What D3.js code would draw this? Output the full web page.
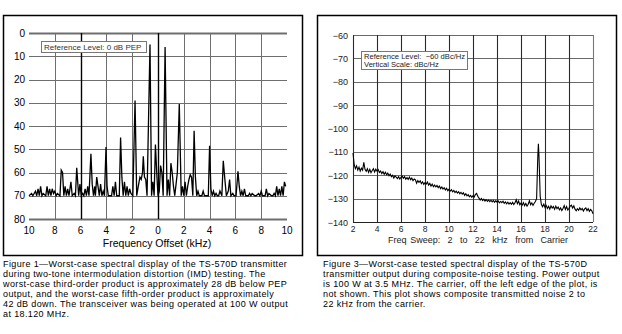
<!DOCTYPE html>
<html><head><meta charset="utf-8">
<script src="https://cdn.jsdelivr.net/npm/d3@7"></script>
<style>
html,body{margin:0;padding:0;background:#fff;}
svg{display:block;font-family:"Liberation Sans",Arial,sans-serif;}
</style></head>
<body>
<svg id="c" width="622" height="334"></svg>
<script>
// ---------- Figure 1 data: two-tone IMD spectrum (kHz offset, dB rel. PEP) ----------
const imdFreq = [-10,-9.8,-9.7,-9.5,-9.4,-9.3,-9.2,-9.1,-9.0,-8.9,-8.7,-8.6,-8.5,-8.4,-8.3,-8.2,-8.1,-8.0,-7.9,-7.8,-7.6,-7.5,-7.4,-7.3,-7.2,-7.1,-7.0,-6.9,-6.75,-6.65,-6.5,-6.4,-6.3,-6.2,-6.15,-6.05,-5.95,-5.85,-5.75,-5.65,-5.55,-5.45,-5.35,-5.2,-5.1,-5.0,-4.9,-4.85,-4.75,-4.65,-4.55,-4.45,-4.35,-4.25,-4.15,-4.03,-3.95,-3.85,-3.6,-3.5,-3.4,-3.3,-3.2,-3.0,-2.9,-2.8,-2.7,-2.6,-2.5,-2.4,-2.3,-2.2,-2.1,-1.95,-1.78,-1.65,-1.5,-1.4,-1.3,-1.2,-1.14,-1.05,-0.95,-0.85,-0.62,-0.5,-0.4,-0.3,-0.2,-0.1,0.0,0.1,0.2,0.3,0.4,0.55,0.7,0.8,0.9,1.0,1.1,1.2,1.3,1.4,1.5,1.65,1.8,1.9,2.0,2.1,2.2,2.3,2.4,2.5,2.6,2.7,2.8,2.9,3.0,3.1,3.2,3.4,3.5,3.6,3.9,4.0,4.1,4.2,4.3,4.4,4.5,4.6,4.7,4.8,4.95,5.06,5.2,5.3,5.45,5.55,5.65,5.8,5.9,6.05,6.2,6.3,6.4,6.5,6.6,6.7,6.8,7.0,7.1,7.2,7.3,7.5,7.6,7.8,7.9,8.0,8.1,8.3,8.4,8.5,8.6,8.8,8.9,9.0,9.1,9.2,9.3,9.4,9.5,9.6,9.7,9.8,9.9,10.0];
const imdLevel = [-70,-69,-70,-68,-70,-67,-70,-66,-70,-69,-70,-66,-70,-67,-70,-67,-69,-68,-70,-69,-70,-59,-60,-70,-66,-70,-67,-70,-64,-70,-69,-70,-58,-66,-70,-65,-70,-69,-70,-67,-70,-66,-70,-52,-65,-70,-66,-70,-62,-66,-70,-65,-70,-68,-70,-49,-66,-70,-70,-66,-70,-64,-70,-70,-45,-62,-70,-64,-70,-66,-70,-67,-69,-70,-29,-70,-65,-62,-63,-60,-53,-62,-63,-70,-5,-70,-64,-70,-48,-60,-70,-68,-57,-60,-70,-6,-70,-63,-70,-56,-60,-66,-70,-65,-60,-30.5,-70,-66,-70,-64,-70,-66,-63,-61,-62,-70,-42,-62,-70,-68,-70,-70,-68,-70,-70,-48.5,-67,-70,-68,-70,-69,-70,-70,-68,-70,-55,-64,-70,-68,-63,-70,-69,-70,-70,-59.5,-66,-70,-68,-70,-67,-70,-70,-69,-70,-69,-70,-70,-69,-70,-68,-70,-70,-67,-70,-69,-70,-70,-69,-70,-66,-70,-67,-70,-66,-70,-64,-66];
const imdXTicks = [-10,-8,-6,-4,-2,0,2,4,6,8,10];
const imdYTicks = [0,-10,-20,-30,-40,-50,-60,-70,-80];
const imdRefText = "Reference Level: 0 dB PEP";
const imdXTitle = "Frequency Offset (kHz)";
const fig1Caption = [
 "Figure 1\u2014Worst-case spectral display of the TS-570D transmitter",
 "during two-tone intermodulation distortion (IMD) testing. The",
 "worst-case third-order product is approximately 28 dB below PEP",
 "output, and the worst-case fifth-order product is approximately",
 "42 dB down. The transceiver was being operated at 100 W output",
 "at 18.120 MHz."];

// ---------- Figure 3 data: composite noise (kHz from carrier, dBc/Hz) ----------
const noiseFreq = [2.0,2.1,2.2,2.3,2.4,2.5,2.6,2.7,2.8,2.9,3.0,
 3.1,3.2,3.3,3.4,3.5,3.6,3.7,3.8,3.9,4.0,
 4.1,4.2,4.3,4.4,4.5,4.6,4.7,4.8,4.9,5.0,
 5.1,5.2,5.3,5.4,5.5,5.6,5.7,5.8,5.9,6.0,
 6.1,6.2,6.3,6.4,6.5,6.6,6.7,6.8,6.9,7.0,
 7.1,7.2,7.3,7.4,7.5,7.6,7.7,7.8,7.9,8.0,
 8.1,8.2,8.3,8.4,8.5,8.6,8.7,8.8,8.9,9.0,
 9.1,9.2,9.3,9.4,9.5,9.6,9.7,9.8,9.9,10.0,
 10.1,10.2,10.3,10.4,10.5,10.6,10.7,10.8,10.9,11.0,
 11.1,11.2,11.3,11.4,11.5,11.6,11.7,11.8,11.9,12.0,
 12.1,12.2,12.3,12.4,12.5,12.6,12.7,12.8,12.9,13.0,
 13.1,13.2,13.3,13.4,13.5,13.6,13.7,13.8,13.9,14.0,
 14.1,14.2,14.3,14.4,14.5,14.6,14.7,14.8,14.9,15.0,
 15.1,15.2,15.3,15.4,15.5,15.6,15.7,15.8,15.9,16.0,
 16.1,16.2,16.3,16.4,16.5,16.6,16.7,16.8,16.9,17.0,
 17.1,17.2,17.3,17.4,17.45,17.5,17.6,17.7,17.8,17.9,18.0,
 18.1,18.2,18.3,18.4,18.5,18.6,18.7,18.8,18.9,19.0,
 19.1,19.2,19.3,19.4,19.5,19.6,19.7,19.8,19.9,20.0,
 20.1,20.2,20.3,20.4,20.5,20.6,20.7,20.8,20.9,21.0,
 21.1,21.2,21.3,21.4,21.5,21.6,21.7,21.8,21.9,22.0];
const noiseLevel = [-110.5,-115.5,-117.2,-116.0,-117.8,-116.5,-118.2,-117.0,-117.8,-114.5,-117.5,
 -118.3,-117.2,-118.8,-117.5,-118.9,-118.0,-117.2,-118.6,-117.4,-118.2,
 -117.6,-118.8,-118.2,-119.3,-118.5,-119.6,-118.7,-119.8,-119.1,-120.2,
 -119.5,-120.6,-120.0,-121.2,-120.3,-120.8,-121.4,-120.6,-121.6,-120.9,
 -120.4,-121.3,-120.6,-121.7,-121.0,-121.8,-120.8,-121.9,-121.2,-122.3,
 -121.6,-122.0,-123.4,-122.3,-123.0,-122.4,-123.6,-122.8,-123.9,-123.2,
 -123.8,-122.9,-124.2,-123.5,-124.6,-123.8,-124.9,-124.2,-125.0,-124.4,
 -125.3,-124.6,-125.7,-125.0,-125.9,-125.3,-126.3,-125.6,-126.6,-126.0,
 -126.8,-126.2,-127.1,-126.5,-127.4,-126.8,-127.6,-127.0,-127.9,-127.3,
 -128.1,-127.5,-128.6,-127.9,-128.8,-128.3,-129.2,-128.6,-129.4,-128.7,
 -129.3,-128.2,-127.8,-129.0,-129.8,-130.6,-129.9,-130.8,-130.2,-131.0,
 -130.4,-131.2,-130.6,-131.3,-130.7,-131.4,-130.8,-131.6,-130.9,-131.5,
 -131.0,-131.8,-131.2,-131.7,-131.1,-132.0,-131.4,-132.2,-131.5,-132.3,
 -131.7,-132.4,-131.6,-132.5,-131.8,-130.5,-132.2,-131.0,-132.6,-131.9,
 -132.8,-131.7,-133.0,-132.1,-133.2,-132.4,-130.9,-132.6,-131.8,-132.9,
 -132.0,-131.2,-130.0,-112.0,-106.5,-112.0,-129.0,-132.5,-133.5,-132.4,-133.8,
 -132.9,-134.2,-133.3,-134.5,-133.1,-134.0,-133.4,-134.6,-133.2,-134.3,
 -133.6,-134.8,-134.0,-135.1,-134.2,-133.0,-134.6,-133.4,-134.9,-134.1,
 -133.2,-132.8,-134.0,-133.1,-134.5,-135.2,-134.3,-135.0,-134.0,-134.8,
 -134.2,-135.3,-134.4,-134.0,-135.1,-134.3,-135.4,-134.6,-135.2,-136.5];
const noiseXTicks = [2,4,6,8,10,12,14,16,18,20,22];
const noiseYTicks = [-60,-70,-80,-90,-100,-110,-120,-130,-140];
const noiseRefText = ["Reference Level:  \u221260 dBc/Hz","Vertical Scale: dBc/Hz"];
const noiseXTitle = "Freq Sweep:  2  to  22  kHz  from  Carrier";
const fig3Caption = [
 "Figure 3\u2014Worst-case tested spectral display of the TS-570D",
 "transmitter output during composite-noise testing. Power output",
 "is 100 W at 3.5 MHz. The carrier, off the left edge of the plot, is",
 "not shown. This plot shows composite transmitted noise 2 to",
 "22 kHz from the carrier."];

const svg = d3.select("#c");

// ================= Figure 1 =================
const g1 = svg.append("g");
g1.append("rect").attr("x",3.5).attr("y",15.5).attr("width",299).attr("height",240)
  .attr("fill","none").attr("stroke","#000").attr("stroke-width",1.5);
const x1 = d3.scaleLinear().domain([-10,10]).range([29,287]);
const y1 = d3.scaleLinear().domain([0,-80]).range([33,219]);
g1.selectAll("line.h").data(imdYTicks).join("line")
  .attr("x1",x1(-10)).attr("x2",x1(10))
  .attr("y1",d=>Math.round(y1(d))+0.5).attr("y2",d=>Math.round(y1(d))+0.5)
  .attr("stroke","#6e6e6e").attr("stroke-width",d=>(d===0||d===-80)?1.8:1);
g1.selectAll("line.v").data(imdXTicks.filter(d=>d!==-10&&d!==10)).join("line")
  .attr("x1",d=>Math.round(x1(d))+0.5).attr("x2",d=>Math.round(x1(d))+0.5)
  .attr("y1",y1(0)).attr("y2",y1(-80))
  .attr("stroke",d=>(d===-6||d===0)?"#000":"#6e6e6e")
  .attr("stroke-width",d=>(d===-6||d===0)?1.4:1);
const imdPts = imdFreq.map((f,i)=>[f,imdLevel[i]]);
g1.append("path").datum(imdPts)
  .attr("d",d3.line().x(d=>x1(d[0])).y(d=>y1(d[1])))
  .attr("fill","none").attr("stroke","#000").attr("stroke-width",1.3);
g1.selectAll("text.yl").data(imdYTicks).join("text")
  .attr("x",25).attr("y",d=>y1(d)+3.5).attr("text-anchor","end")
  .attr("font-size",10).attr("fill","#000").text(d=>Math.abs(d));
g1.selectAll("text.xl").data(imdXTicks).join("text")
  .attr("x",d=>x1(d)).attr("y",234).attr("text-anchor","middle")
  .attr("font-size",10).attr("fill","#000").text(d=>Math.abs(d));
g1.append("text").attr("x",157).attr("y",247).attr("text-anchor","middle")
  .attr("font-size",10.5).attr("fill","#000").text(imdXTitle);
g1.append("rect").attr("x",41.5).attr("y",41.5).attr("width",105).attr("height",11)
  .attr("fill","#fff").attr("stroke","#777").attr("stroke-width",1);
g1.append("text").attr("x",44).attr("y",50).attr("font-size",8).attr("fill","#333").text(imdRefText);
g1.selectAll("text.cap").data(fig1Caption).join("text")
  .attr("x",3).attr("y",(d,i)=>267+i*10).attr("font-size",9).attr("letter-spacing",0.38)
  .attr("fill","#000").text(d=>d);

// ================= Figure 3 =================
const g3 = svg.append("g");
g3.append("rect").attr("x",317.5).attr("y",15.5).attr("width",299).attr("height",240)
  .attr("fill","none").attr("stroke","#000").attr("stroke-width",1.5);
const x3 = d3.scaleLinear().domain([2,22]).range([353,593]);
const y3 = d3.scaleLinear().domain([-60,-140]).range([35,222]);
g3.selectAll("line.h").data(noiseYTicks).join("line")
  .attr("x1",x3(2)).attr("x2",x3(22))
  .attr("y1",d=>Math.round(y3(d))+0.5).attr("y2",d=>Math.round(y3(d))+0.5)
  .attr("stroke",d=>d===-140?"#222":"#6a6a6a").attr("stroke-width",1.1);
g3.selectAll("line.v").data(noiseXTicks).join("line")
  .attr("x1",d=>Math.round(x3(d))+0.5).attr("x2",d=>Math.round(x3(d))+0.5)
  .attr("y1",y3(-60)).attr("y2",y3(-140))
  .attr("stroke",d=>d===22?"#777":"#2a2a2a").attr("stroke-width",1.1);
const noisePts = noiseFreq.map((f,i)=>[f,noiseLevel[i]]);
g3.append("path").datum(noisePts)
  .attr("d",d3.line().x(d=>x3(d[0])).y(d=>y3(d[1])))
  .attr("fill","none").attr("stroke","#000").attr("stroke-width",1.1);
g3.selectAll("text.yl").data(noiseYTicks).join("text")
  .attr("x",348).attr("y",d=>y3(d)+3.5).attr("text-anchor","end")
  .attr("font-size",9).attr("fill","#222").text(d=>"\u2212"+Math.abs(d));
g3.selectAll("text.xl").data(noiseXTicks).join("text")
  .attr("x",d=>x3(d)).attr("y",232).attr("text-anchor","middle")
  .attr("font-size",8.5).attr("fill","#222").text(d=>d);
g3.append("text").attr("x",478).attr("y",243).attr("text-anchor","middle")
  .attr("font-size",9).attr("fill","#222").attr("word-spacing",1.2)
  .style("white-space","pre").text(noiseXTitle);
g3.append("rect").attr("x",361.5).attr("y",51.5).attr("width",106).attr("height",18)
  .attr("fill","#fff").attr("stroke","#777").attr("stroke-width",1);
g3.selectAll("text.ref").data(noiseRefText).join("text")
  .attr("x",364).attr("y",(d,i)=>59+i*7.5).attr("font-size",7.6).attr("fill","#222")
  .style("white-space","pre").text(d=>d);
g3.selectAll("text.cap").data(fig3Caption).join("text")
  .attr("x",323).attr("y",(d,i)=>267+i*10).attr("font-size",9).attr("letter-spacing",0.38)
  .attr("fill","#000").text(d=>d);
</script>
</body></html>
